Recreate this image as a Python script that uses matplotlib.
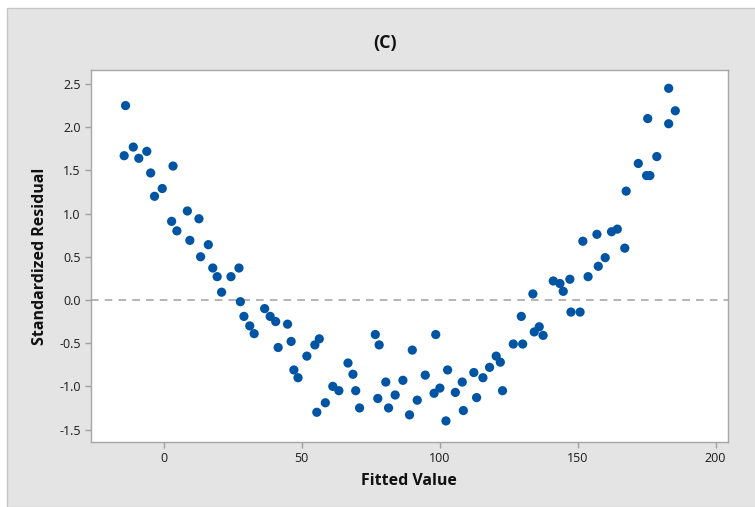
import matplotlib
matplotlib.use("Agg")
import matplotlib.pyplot as plt
from matplotlib.patches import Rectangle

plt.rcParams['font.family'] = ['Open Sans', 'DejaVu Sans']

fitted = [-13.8, -11.0, -14.3, -9.0, -6.1, -4.7, 3.4, -0.5, -3.3, 8.6,
          12.8, 2.9, 4.8, 9.5, 16.2, 13.4, 17.8, 19.4, 24.4, 27.3,
          21.0, 27.8, 29.1, 31.2, 32.8, 36.6, 38.6, 40.6, 44.9, 46.2,
          41.5, 56.4, 54.8, 51.9, 47.2, 48.7, 55.5, 58.6, 61.3, 63.5,
          66.8, 68.6, 69.6, 71.0, 76.7, 78.1, 80.5, 77.6, 81.5, 83.9,
          86.7, 90.1, 89.1, 91.9, 94.8, 98.6, 98.0, 100.1, 102.9, 102.3,
          105.7, 108.2, 108.6, 112.4, 113.4, 115.7, 118.1, 120.5, 122.0, 122.8,
          126.7, 130.1, 129.6, 134.3, 136.1, 137.5, 133.8, 141.2, 143.6, 144.8,
          147.2, 147.6, 150.9, 153.8, 151.9, 157.0, 162.3, 164.4, 167.1, 160.0,
          157.5, 167.6, 172.0, 178.7, 175.0, 176.2, 175.4, 183.0, 183.0, 185.4]
resid = [2.25, 1.77, 1.67, 1.64, 1.72, 1.47, 1.55, 1.29, 1.20, 1.03,
         0.94, 0.91, 0.80, 0.69, 0.64, 0.50, 0.37, 0.27, 0.27, 0.37,
         0.09, -0.02, -0.19, -0.30, -0.39, -0.10, -0.19, -0.25, -0.28, -0.48,
         -0.55, -0.45, -0.52, -0.65, -0.81, -0.90, -1.30, -1.19, -1.00, -1.05,
         -0.73, -0.86, -1.05, -1.25, -0.40, -0.52, -0.95, -1.14, -1.25, -1.10,
         -0.93, -0.58, -1.33, -1.16, -0.87, -0.40, -1.08, -1.02, -0.81, -1.40,
         -1.07, -0.95, -1.28, -0.84, -1.13, -0.90, -0.78, -0.65, -0.72, -1.05,
         -0.51, -0.51, -0.19, -0.37, -0.31, -0.41, 0.07, 0.22, 0.19, 0.10,
         0.24, -0.14, -0.14, 0.27, 0.68, 0.76, 0.79, 0.82, 0.60, 0.49,
         0.39, 1.26, 1.58, 1.66, 1.44, 1.44, 2.10, 2.04, 2.45, 2.19]

fig = plt.figure(figsize=(7.55, 5.07), dpi=100)
fig.patch.set_facecolor('white')
# grey panel behind the graph
fig.add_artist(Rectangle((7 / 755, 0), 1, 1 - 8 / 507, transform=fig.transFigure,
                         facecolor='#e4e4e4', edgecolor='#c6c6c6', linewidth=1, zorder=0))

ax = fig.add_axes([90.5 / 755, 1 - 442 / 507, (728 - 90.5) / 755, (442 - 70) / 507])
ax.set_facecolor('white')
ax.scatter(fitted, resid, s=44, color='#0054a4', edgecolors='none', zorder=3)
ax.axhline(0, color='#a0a0a0', linestyle=(0, (5, 4)), linewidth=1.1, zorder=2)

ax.set_xlim(-26.5, 204.5)
ax.set_ylim(-1.644, 2.662)
ax.set_xticks([0, 50, 100, 150, 200])
ax.set_yticks([-1.5, -1.0, -0.5, 0.0, 0.5, 1.0, 1.5, 2.0, 2.5])
ax.set_yticklabels(['-1.5', '-1.0', '-0.5', '0.0', '0.5', '1.0', '1.5', '2.0', '2.5'])
for s in ax.spines.values():
    s.set_color('#a6a6a6')
    s.set_linewidth(1)
ax.tick_params(direction='out', length=4, width=1, color='#a0a0a0',
               labelsize=9, labelcolor='#1a1a1a', pad=3)

ax.set_xlabel('Fitted Value', fontsize=11.5, fontweight='bold', color='#111111', labelpad=6)
ax.set_ylabel('Standardized Residual', fontsize=11.5, fontweight='bold', color='#111111', labelpad=8)
fig.text(385 / 755, 1 - 43 / 507, '(C)', ha='center', va='center',
         fontsize=13, fontweight='bold', color='#111111')

fig.savefig('out.png', dpi=100)
